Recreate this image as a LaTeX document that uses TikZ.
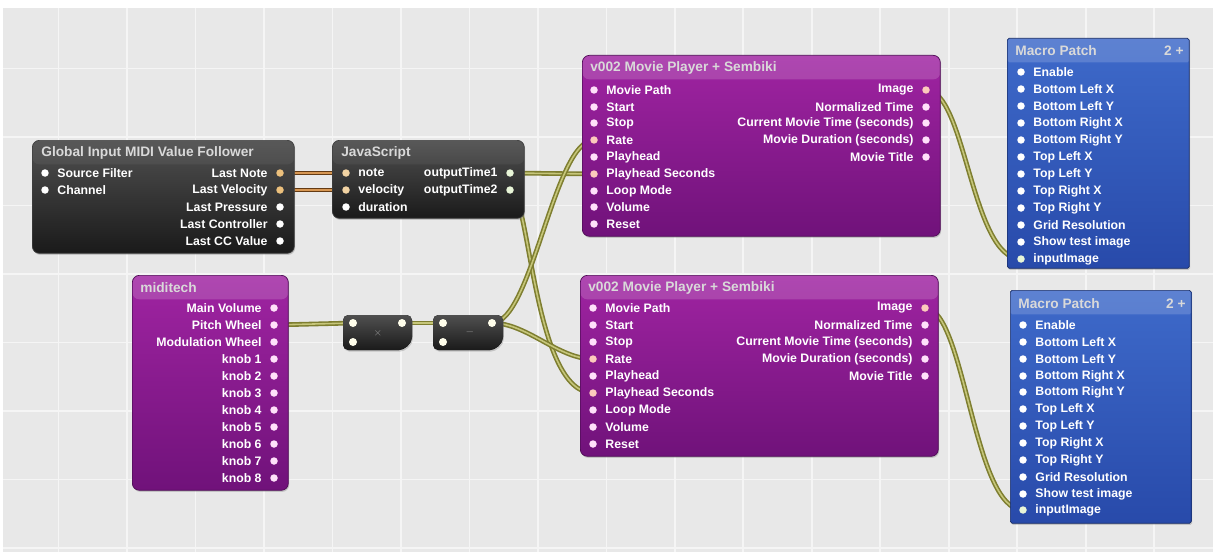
\documentclass[tikz,border=0pt]{standalone}
\usepackage{fontspec}
\setmainfont{Liberation Sans}
\usetikzlibrary{shadows,backgrounds}

\definecolor{qcbg}{RGB}{232,232,232}
\definecolor{qcdarktop}{RGB}{80,80,80}
\definecolor{qcdarkbot}{RGB}{26,26,26}
\definecolor{qcpurptop}{RGB}{160,36,162}
\definecolor{qcpurpbot}{RGB}{112,18,122}
\definecolor{qcbluetop}{RGB}{62,106,202}
\definecolor{qcbluebot}{RGB}{40,74,170}
\definecolor{wireolive}{RGB}{126,126,48}
\definecolor{wirelight}{RGB}{198,198,122}
\definecolor{wirebrown}{RGB}{100,58,18}
\definecolor{wirecopper}{RGB}{214,150,82}
\definecolor{dotpink}{RGB}{255,224,250}
\definecolor{dotpeach}{RGB}{252,202,188}
\definecolor{dotorange}{RGB}{236,192,124}
\definecolor{dotgreen}{RGB}{232,245,215}

\tikzset{
  patch/.style={anchor=north west, inner sep=0pt, rounded corners=4pt, draw=black!75, line width=0.4pt,
    drop shadow={opacity=0.35, shadow xshift=0.5pt, shadow yshift=-0.9pt}},
  hdr/.style={path picture={\fill[white,opacity=#1] (path picture bounding box.north west)
    rectangle ([yshift=-0.48cm]path picture bounding box.north east);}},
  darkpatch/.style={patch, top color=qcdarktop, bottom color=qcdarkbot, hdr=0.05},
  purppatch/.style={patch, draw=qcpurpbot!70!black, top color=qcpurptop, bottom color=qcpurpbot, hdr=0.16},
  bluepatch/.style={patch, draw=qcbluebot!60!black, top color=qcbluetop, bottom color=qcbluebot, hdr=0.16, rounded corners=1pt},
  mathbox/.style={top color=qcdarktop, bottom color=qcdarkbot, rounded corners=3pt,
    drop shadow={opacity=0.35, shadow xshift=0.5pt, shadow yshift=-0.9pt}},
  ttl/.style={anchor=west, inner sep=0pt, text=white!85!black, font=\fontsize{7.8}{9}\selectfont\bfseries},
  plbl/.style={inner sep=0pt, text=white, font=\fontsize{7}{8}\selectfont\bfseries},
  port/.style={circle, inner sep=0pt, minimum size=0.15cm, fill=white},
  ip/.style={port, label={[plbl, xshift=0.16cm]right:#1}},
  op/.style={port, label={[plbl, xshift=-0.16cm]left:#1}},
  mport/.style={circle, inner sep=0pt, minimum size=0.16cm, fill=white!92!yellow},
  gridline/.style={draw=white, line width=1pt, opacity=0.6},
  wire/.style={draw=wireolive, double=wirelight, double distance=0.9pt, line width=0.9pt},
  wireb/.style={draw=wirebrown, double=wirecopper, double distance=0.9pt, line width=0.9pt}
}

\begin{document}
\begin{tikzpicture}[x=0.02cm, y=-0.02cm]
\useasboundingbox (0,0) rectangle (1213,554);
\begin{pgfonlayer}{background}
\fill[qcbg] (3,8) rectangle (1213,552);
\draw[gridline, xshift=-0.2cm, step=1.37cm] (13,8) grid (1223,552);
\end{pgfonlayer}

% Global Input MIDI Value Follower
\node[darkpatch, minimum width=5.24cm, minimum height=2.26cm] (gim) at (32,140) {};
\node[ttl] (gimTitle) at (41,153) {Global Input MIDI Value Follower};
\node[ip=Source Filter] (gimSrc) at (45,173) {};
\node[ip=Channel] (gimChan) at (45,190) {};
\node[op=Last Note, fill=dotorange] (gimNote) at (280,173) {};
\node[op=Last Velocity, fill=dotorange] (gimVel) at (280,190) {};
\node[op=Last Pressure] (gimPress) at (280,207) {};
\node[op=Last Controller] (gimCtrl) at (280,224) {};
\node[op=Last CC Value] (gimCC) at (280,241) {};

% JavaScript
\node[darkpatch, minimum width=3.84cm, minimum height=1.56cm] (js) at (332,140) {};
\node[ttl] (jsTitle) at (341,153) {JavaScript};
\node[ip=note, fill=dotorange!70!white] (jsNote) at (346,173) {};
\node[ip=velocity, fill=dotorange!70!white] (jsVel) at (346,190) {};
\node[ip=duration] (jsDur) at (346,207) {};
\node[op=outputTime1, fill=dotgreen] (jsOutA) at (510,173) {};
\node[op=outputTime2, fill=dotgreen] (jsOutB) at (510,190) {};

% v002 Movie Player (top)
\node[purppatch, minimum width=7.16cm, minimum height=3.62cm] (mpa) at (582,55) {};
\node[ttl] (mpaTitle) at (590,68) {v002 Movie Player + Sembiki};
\node[ip=Movie Path, fill=dotpink] (mpaPath) at (594,90) {};
\node[ip=Start, fill=dotpink] (mpaStart) at (594,107) {};
\node[ip=Stop, fill=dotpink] (mpaStop) at (594,123) {};
\node[ip=Rate, fill=dotpeach] (mpaRate) at (594,140) {};
\node[ip=Playhead, fill=dotpink] (mpaHead) at (594,157) {};
\node[ip=Playhead Seconds, fill=dotpeach] (mpaSec) at (594,174) {};
\node[ip=Loop Mode, fill=dotpink] (mpaLoop) at (594,191) {};
\node[ip=Volume, fill=dotpink] (mpaVol) at (594,207) {};
\node[ip=Reset, fill=dotpink] (mpaReset) at (594,224) {};
\node[op=Image, fill=dotpeach] (mpaImg) at (926,90) {};
\node[op=Normalized Time, fill=dotpink] (mpaNorm) at (926,107) {};
\node[op=Current Movie Time (seconds), fill=dotpink] (mpaCur) at (926,123) {};
\node[op=Movie Duration (seconds), fill=dotpink] (mpaDur) at (926,140) {};
\node[op=Movie Title, fill=dotpink] (mpaMT) at (926,157) {};

% v002 Movie Player (bottom)
\node[purppatch, minimum width=7.16cm, minimum height=3.62cm] (mpb) at (580,275) {};
\node[ttl] (mpbTitle) at (588,288) {v002 Movie Player + Sembiki};
\node[ip=Movie Path, fill=dotpink] (mpbPath) at (593,308) {};
\node[ip=Start, fill=dotpink] (mpbStart) at (593,325) {};
\node[ip=Stop, fill=dotpink] (mpbStop) at (593,342) {};
\node[ip=Rate, fill=dotpeach] (mpbRate) at (593,359) {};
\node[ip=Playhead, fill=dotpink] (mpbHead) at (593,376) {};
\node[ip=Playhead Seconds, fill=dotpeach] (mpbSec) at (593,393) {};
\node[ip=Loop Mode, fill=dotpink] (mpbLoop) at (593,410) {};
\node[ip=Volume, fill=dotpink] (mpbVol) at (593,427) {};
\node[ip=Reset, fill=dotpink] (mpbReset) at (593,444) {};
\node[op=Image, fill=dotpeach] (mpbImg) at (925,308) {};
\node[op=Normalized Time, fill=dotpink] (mpbNorm) at (925,325) {};
\node[op=Current Movie Time (seconds), fill=dotpink] (mpbCur) at (925,342) {};
\node[op=Movie Duration (seconds), fill=dotpink] (mpbDur) at (925,359) {};
\node[op=Movie Title, fill=dotpink] (mpbMT) at (925,376) {};

% miditech
\node[purppatch, minimum width=3.12cm, minimum height=4.3cm] (mid) at (132,275) {};
\node[ttl] (midTitle) at (140,288) {miditech};
\node[op=Main Volume, fill=dotpink] (midVol) at (274,308) {};
\node[op=Pitch Wheel, fill=dotpink] (midPitch) at (274,325) {};
\node[op=Modulation Wheel, fill=dotpink] (midMod) at (274,342) {};
\node[op=knob 1, fill=dotpink] (midKa) at (274,359) {};
\node[op=knob 2, fill=dotpink] (midKb) at (274,376) {};
\node[op=knob 3, fill=dotpink] (midKc) at (274,393) {};
\node[op=knob 4, fill=dotpink] (midKd) at (274,410) {};
\node[op=knob 5, fill=dotpink] (midKe) at (274,427) {};
\node[op=knob 6, fill=dotpink] (midKf) at (274,444) {};
\node[op=knob 7, fill=dotpink] (midKg) at (274,461) {};
\node[op=knob 8, fill=dotpink] (midKh) at (274,478) {};

% math patches
\fill[mathbox] (343,315) -- (412,315) -- (412,332) .. controls (412,344) and (404,350) .. (394,350) -- (343,350) -- cycle;
\node[text=white!55!black, font=\tiny] (mul) at (378,333) {$\times$};
\node[mport] (mulInA) at (353,323) {};
\node[mport] (mulInB) at (353,342) {};
\node[mport] (mulOut) at (402,323) {};
\fill[mathbox] (433,315) -- (503,315) -- (503,332) .. controls (503,344) and (495,350) .. (485,350) -- (433,350) -- cycle;
\node[text=white!55!black, font=\tiny] (sub) at (470,332) {$-$};
\node[mport] (subInA) at (443,323) {};
\node[mport] (subInB) at (443,342) {};
\node[mport] (subOut) at (492,323) {};

% Macro Patch (top)
\node[bluepatch, minimum width=3.64cm, minimum height=4.6cm] (maca) at (1007,38) {};
\node[ttl] (macaTitle) at (1015,51) {Macro Patch};
\node[ttl, anchor=east] (macaNum) at (1184,51) {2 +};
\node[ip=Enable] (macaEn) at (1021,72) {};
\node[ip=Bottom Left X] (macaBLX) at (1021,89) {};
\node[ip=Bottom Left Y] (macaBLY) at (1021,106) {};
\node[ip=Bottom Right X] (macaBRX) at (1021,123) {};
\node[ip=Bottom Right Y] (macaBRY) at (1021,140) {};
\node[ip=Top Left X] (macaTLX) at (1021,157) {};
\node[ip=Top Left Y] (macaTLY) at (1021,174) {};
\node[ip=Top Right X] (macaTRX) at (1021,191) {};
\node[ip=Top Right Y] (macaTRY) at (1021,208) {};
\node[ip=Grid Resolution] (macaGrid) at (1021,225) {};
\node[ip=Show test image] (macaTest) at (1021,242) {};
\node[ip=inputImage, fill=dotgreen] (macaImg) at (1021,259) {};

% Macro Patch (bottom)
\node[bluepatch, minimum width=3.62cm, minimum height=4.66cm] (macb) at (1010,290) {};
\node[ttl] (macbTitle) at (1018,304) {Macro Patch};
\node[ttl, anchor=east] (macbNum) at (1186,304) {2 +};
\node[ip=Enable] (macbEn) at (1023,325) {};
\node[ip=Bottom Left X] (macbBLX) at (1023,342) {};
\node[ip=Bottom Left Y] (macbBLY) at (1023,359) {};
\node[ip=Bottom Right X] (macbBRX) at (1023,376) {};
\node[ip=Bottom Right Y] (macbBRY) at (1023,392) {};
\node[ip=Top Left X] (macbTLX) at (1023,409) {};
\node[ip=Top Left Y] (macbTLY) at (1023,426) {};
\node[ip=Top Right X] (macbTRX) at (1023,443) {};
\node[ip=Top Right Y] (macbTRY) at (1023,460) {};
\node[ip=Grid Resolution] (macbGrid) at (1023,477) {};
\node[ip=Show test image] (macbTest) at (1023,494) {};
\node[ip=inputImage, fill=dotgreen] (macbImg) at (1023,510) {};

% wires
\begin{pgfonlayer}{background}
\draw[wireb] (gimNote.center) -- (jsNote.center);
\draw[wireb] (gimVel.center) -- (jsVel.center);
\draw[wire] (jsOutA.center) -- (mpaSec.center);
\draw[wire] (jsOutB.center) .. controls +(20,0) and +(-60,0) .. (mpbSec.center);
\draw[wire] (midPitch.center) -- (mulInA.center);
\draw[wire] (mulOut.center) -- (subInA.center);
\draw[wire] (subOut.center) .. controls +(40,0) and +(-40,0) .. (mpaRate.center);
\draw[wire] (subOut.center) .. controls +(35,0) and +(-35,0) .. (mpbRate.center);
\draw[wire] (mpaImg.center) .. controls +(40,0) and +(-50,0) .. (macaImg.center);
\draw[wire] (mpbImg.center) .. controls +(40,0) and +(-50,0) .. (macbImg.center);
\end{pgfonlayer}
\end{tikzpicture}
\end{document}
